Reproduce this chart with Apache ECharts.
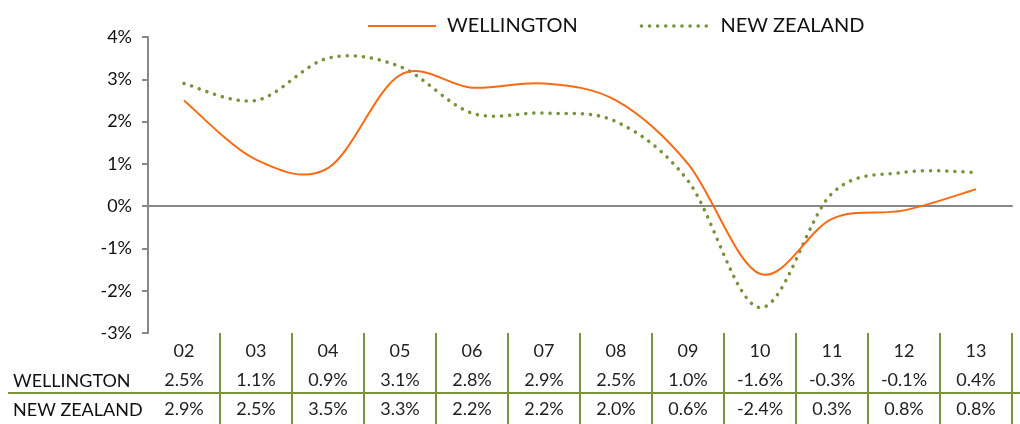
<!DOCTYPE html>
<html>
<head>
<meta charset="utf-8">
<script src="https://cdn.jsdelivr.net/npm/echarts@6/dist/echarts.min.js"></script>
<style>
  html, body { margin: 0; padding: 0; background: #fff; }
  #main { width: 1020px; height: 424px; }
</style>
</head>
<body>
<div id="main"></div>
<script>
// years (20xx)
const years = ['02', '03', '04', '05', '06', '07', '08', '09', '10', '11', '12', '13'];
const wellington = [2.5, 1.1, 0.9, 3.1, 2.8, 2.9, 2.5, 1.0, -1.6, -0.3, -0.1, 0.4];
const newZealand = [2.9, 2.5, 3.5, 3.3, 2.2, 2.2, 2.0, 0.6, -2.4, 0.3, 0.8, 0.8];
const yTicks = [-3, -2, -1, 0, 1, 2, 3, 4];

const ORANGE = '#F86A14';
const GREEN = '#77933C';
const FONT = 'Lato';

const chart = echarts.init(document.getElementById('main'));

const fmt = v => v.toFixed(1) + '%';

// excel-like smoothed line: bezier through the points, tangents from neighbours
function smoothLine(values, lineStyle) {
  return function (params, api) {
    if (params.dataIndex !== 0) return null;
    const pts = values.map((v, i) => api.coord([i, v]));
    const n = pts.length;
    let d = 'M' + pts[0][0] + ',' + pts[0][1];
    for (let i = 0; i < n - 1; i++) {
      const p0 = pts[Math.max(i - 1, 0)];
      const p1 = pts[i];
      const p2 = pts[i + 1];
      const p3 = pts[Math.min(i + 2, n - 1)];
      const c1x = p1[0] + (p2[0] - p0[0]) / 6, c1y = p1[1] + (p2[1] - p0[1]) / 6;
      const c2x = p2[0] - (p3[0] - p1[0]) / 6, c2y = p2[1] - (p3[1] - p1[1]) / 6;
      d += ' C' + c1x + ',' + c1y + ' ' + c2x + ',' + c2y + ' ' + p2[0] + ',' + p2[1];
    }
    return {
      type: 'path',
      shape: { pathData: d },
      style: Object.assign({ fill: null }, lineStyle)
    };
  };
}

const option = {
  animation: false,
  textStyle: { fontFamily: FONT },
  legend: {
    top: 11,
    left: 362,
    itemWidth: 68,
    itemHeight: 8,
    itemGap: 62,
    textStyle: { fontSize: 20, color: '#111', fontFamily: FONT, padding: [0, 0, 0, 6] },
    data: [
      { name: 'WELLINGTON', itemStyle: { opacity: 0 }, lineStyle: { opacity: 1, width: 2 } },
      { name: 'NEW ZEALAND', itemStyle: { opacity: 0 }, lineStyle: { opacity: 1, width: 3.5 } }
    ]
  },
  grid: { left: 148, right: 8, top: 37, bottom: 91 },
  xAxis: [
    {
      type: 'category',
      data: years,
      boundaryGap: true,
      axisLine: { onZero: true, lineStyle: { color: '#888', width: 2 } },
      axisTick: { show: false },
      axisLabel: { show: false }
    },
    {
      type: 'category',
      data: years,
      position: 'bottom',
      boundaryGap: true,
      axisLine: { show: false, onZero: false },
      axisTick: {
        show: true,
        length: 92,
        interval: (i) => i > 0,
        lineStyle: { color: GREEN, width: 2 }
      },
      axisLabel: {
        margin: 4,
        fontSize: 18,
        lineHeight: 29,
        color: '#222',
        fontFamily: FONT,
        formatter: (v, i) => v + '\n' + fmt(wellington[i]) + '\n' + fmt(newZealand[i])
      }
    }
  ],
  yAxis: {
    type: 'value',
    min: yTicks[0],
    max: yTicks[yTicks.length - 1],
    interval: 1,
    axisLine: { show: true, lineStyle: { color: '#888', width: 2 } },
    axisTick: { show: true, length: 6, lineStyle: { color: '#888', width: 2 } },
    splitLine: { show: false },
    axisLabel: {
      margin: 16,
      fontSize: 18,
      color: '#111',
      fontFamily: FONT,
      formatter: v => v + '%'
    }
  },
  series: [
    // legend entries (line icons)
    {
      name: 'WELLINGTON',
      type: 'line',
      data: wellington,
      symbol: 'none',
      silent: true,
      lineStyle: { color: ORANGE, width: 2, opacity: 0 },
      itemStyle: { color: ORANGE }
    },
    {
      name: 'NEW ZEALAND',
      type: 'line',
      data: newZealand,
      symbol: 'none',
      silent: true,
      lineStyle: { color: GREEN, width: 3.5, type: [0.1, 8], cap: 'round', opacity: 0 },
      itemStyle: { color: GREEN }
    },
    // drawn curves
    {
      name: 'WELLINGTON',
      type: 'custom',
      data: wellington.map((v, i) => [i, v]),
      encode: { x: 0, y: 1 },
      renderItem: smoothLine(wellington, { stroke: ORANGE, lineWidth: 2 }),
      itemStyle: { color: ORANGE },
      z: 3
    },
    {
      name: 'NEW ZEALAND',
      type: 'custom',
      data: newZealand.map((v, i) => [i, v]),
      encode: { x: 0, y: 1 },
      renderItem: smoothLine(newZealand, { stroke: GREEN, lineWidth: 3.5, lineDash: [0.1, 8], lineCap: 'round' }),
      itemStyle: { color: GREEN },
      z: 2
    }
  ],
  graphic: [
    { type: 'text', x: 13, y: 381, style: { text: 'WELLINGTON', fontSize: 18, fill: '#111', fontFamily: FONT, verticalAlign: 'middle' } },
    { type: 'text', x: 13, y: 410, style: { text: 'NEW ZEALAND', fontSize: 18, fill: '#111', fontFamily: FONT, verticalAlign: 'middle' } },
    { type: 'line', shape: { x1: 8, y1: 393, x2: 1020, y2: 393 }, style: { stroke: GREEN, lineWidth: 2 } }
  ]
};

chart.setOption(option);
</script>
</body>
</html>
